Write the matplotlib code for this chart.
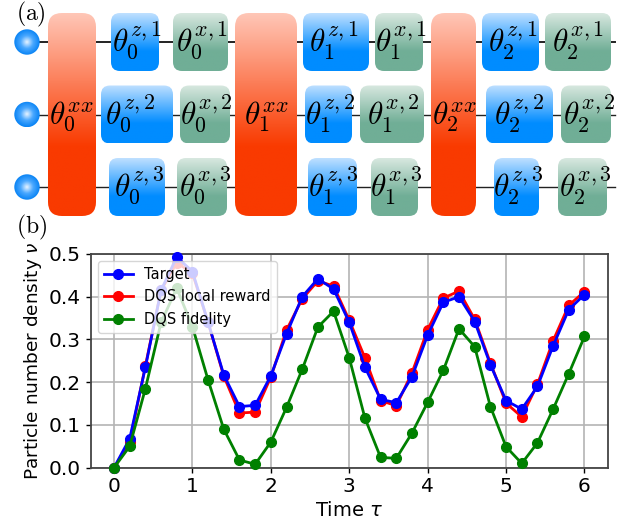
import numpy as np
import matplotlib
matplotlib.use("Agg")
import matplotlib.pyplot as plt
from matplotlib.patches import FancyBboxPatch, Circle
from matplotlib.colors import LinearSegmentedColormap

W, H = 636, 525
time_vals = [0.2 * i for i in range(31)]
target = [0, .068, .235, .415, .493, .459, .34, .217, .143, .146, .215, .313, .40, .442, .418, .34, .235, .16, .152, .213, .31, .387, .40, .342, .241, .157, .137, .19, .285, .37, .405]
local_reward = [0, .06, .238, .415, .48, .455, .34, .214, .128, .13, .212, .322, .395, .437, .425, .345, .257, .157, .145, .222, .323, .397, .413, .347, .245, .151, .119, .195, .297, .38, .412]
fidelity = [0, .05, .185, .34, .42, .33, .205, .09, .018, .008, .06, .141, .23, .329, .366, .257, .116, .024, .022, .081, .153, .228, .325, .283, .143, .049, .01, .058, .137, .22, .307]

rows = [42, 114.5, 187]
xx_gates = [(48, 96, 49, r"$\theta_0^{xx}$"), (235, 297, 244, r"$\theta_1^{xx}$"), (431, 476, 432, r"$\theta_2^{xx}$")]
z_gates = [
    (111, 159, 112, 0, r"$\theta_0^{z,1}$"), (101, 173, 105, 1, r"$\theta_0^{z,2}$"), (109, 165, 114, 2, r"$\theta_0^{z,3}$"),
    (303, 369, 309, 0, r"$\theta_1^{z,1}$"), (305, 352, 305, 1, r"$\theta_1^{z,2}$"), (308, 357, 308, 2, r"$\theta_1^{z,3}$"),
    (482, 539, 488, 0, r"$\theta_2^{z,1}$"), (486, 553, 494, 1, r"$\theta_2^{z,2}$"), (494, 539, 493, 2, r"$\theta_2^{z,3}$"),
]
x_gates = [
    (173, 228, 176, 0, r"$\theta_0^{x,1}$"), (180, 230, 180, 1, r"$\theta_0^{x,2}$"), (177, 227, 179, 2, r"$\theta_0^{x,3}$"),
    (375, 423, 375, 0, r"$\theta_1^{x,1}$"), (360, 424, 367, 1, r"$\theta_1^{x,2}$"), (371, 418, 370, 2, r"$\theta_1^{x,3}$"),
    (545, 611, 552, 0, r"$\theta_2^{x,1}$"), (561, 611, 563, 1, r"$\theta_2^{x,2}$"), (558, 607, 559, 2, r"$\theta_2^{x,3}$"),
]

plt.rcParams["mathtext.fontset"] = "cm"
fig = plt.figure(figsize=(W / 100, H / 100), dpi=100)
bg = fig.add_axes([0, 0, 1, 1])
bg.set_xlim(0, W); bg.set_ylim(H, 0); bg.axis("off")

cm_xx = LinearSegmentedColormap.from_list("xx", [(0, "#ffc6b6"), (0.66, "#f93a00"), (1, "#f93a00")])
cm_z = LinearSegmentedColormap.from_list("z", [(0, "#bfe0ff"), (0.66, "#008cff"), (1, "#008cff")])
cm_x = LinearSegmentedColormap.from_list("x", [(0, "#d8e8e0"), (0.66, "#70ae96"), (1, "#70ae96")])
grad = np.linspace(0, 1, 128).reshape(-1, 1)
ball = LinearSegmentedColormap.from_list("b", ["#e8f4ff", "#4aa8ff", "#0a84f5"])
xx, yy = np.meshgrid(np.linspace(-1, 1, 40), np.linspace(-1, 1, 40))
rr = np.sqrt(xx ** 2 + yy ** 2)

FS = 22.5

def gate(x0, x1, y0, y1, cmap, tx, ty, label, r=10):
    im = bg.imshow(grad, cmap=cmap, extent=(x0, x1, y1, y0), aspect="auto", zorder=3)
    p = FancyBboxPatch((x0 + r, y0 + r), x1 - x0 - 2 * r, y1 - y0 - 2 * r,
                       boxstyle=f"round,pad={r},rounding_size={r}", fc="none", ec="none",
                       transform=bg.transData)
    bg.add_patch(p)
    im.set_clip_path(p)
    bg.text(tx, ty, label, ha="left", va="baseline", fontsize=FS, zorder=4)

for y, lw in zip(rows, (1.4, 1.0, 1.0)):
    bg.plot([25, 615], [y, y], color="#222222", lw=lw, zorder=1)
    im = bg.imshow(rr, cmap=ball, vmin=0, vmax=1, extent=(14, 40, y + 13, y - 13), aspect="auto", zorder=3)
    c = Circle((27, y), 12.7, transform=bg.transData, fc="none", ec="none")
    bg.add_patch(c)
    im.set_clip_path(c)

for x0, x1, tx, label in xx_gates:
    gate(x0, x1, 13, 216, cm_xx, tx, rows[1] + 9.5, label, r=14)
for x0, x1, tx, row, label in z_gates:
    gate(x0, x1, rows[row] - 29, rows[row] + 29, cm_z, tx, rows[row] + 10, label, r=9)
for x0, x1, tx, row, label in x_gates:
    gate(x0, x1, rows[row] - 29, rows[row] + 29, cm_x, tx, rows[row] + 10, label, r=9)
bg.set_xlim(0, W); bg.set_ylim(H, 0)

bg.text(16, 20, r"$\mathrm{(a)}$", fontsize=17, ha="left", va="baseline", zorder=6)
bg.text(16, 233, r"$\mathrm{(b)}$", fontsize=17, ha="left", va="baseline", zorder=6)

ax = fig.add_axes([90.5 / W, 1 - 467.7 / H, (608 - 90.5) / W, (467.7 - 254) / H], zorder=5)
ax.plot(time_vals, local_reward, "-o", color="red", lw=2, ms=7, label="DQS local reward", zorder=3, clip_on=False)
ax.plot(time_vals, target, "-o", color="blue", lw=2, ms=7, label="Target", zorder=4, clip_on=False)
ax.plot(time_vals, fidelity, "-o", color="green", lw=2, ms=7, label="DQS fidelity", zorder=5, clip_on=False)
ax.set_xlim(-0.3, 6.3)
ax.set_ylim(0, 0.5)
ax.set_xticks(range(7))
ax.set_yticks([0, .1, .2, .3, .4, .5])
ax.grid(True, color="#b4b4b4", lw=1.2)
ax.set_axisbelow(True)
ax.tick_params(labelsize=14.5, width=1, length=3.5)
ax.set_xlabel(r"Time $\tau$", fontsize=14, labelpad=3, math_fontfamily="dejavusans")
ax.set_ylabel(r"Particle number density $\nu$", fontsize=13.3, labelpad=3, math_fontfamily="dejavusans")
for s in ax.spines.values():
    s.set_linewidth(1.3)
    s.set_color("#444444")
h, l = ax.get_legend_handles_labels()
order = [1, 0, 2]
leg = ax.legend([h[i] for i in order], [l[i] for i in order], loc="upper left", fontsize=10.5, framealpha=0.8)
leg.set_zorder(10)
fig.savefig("out.png", dpi=100)
